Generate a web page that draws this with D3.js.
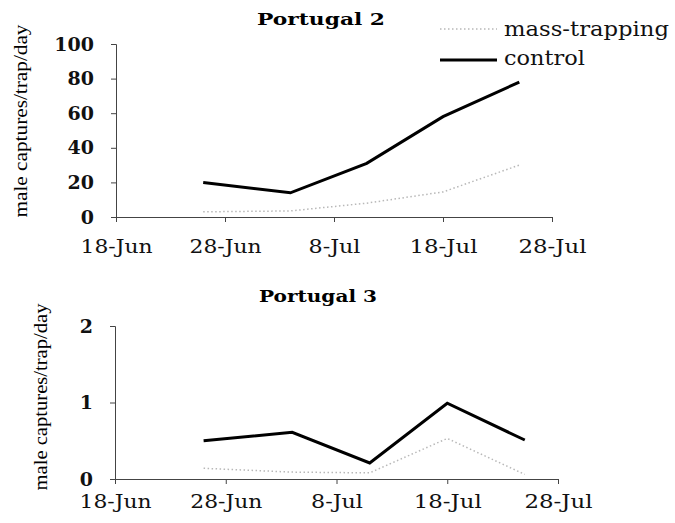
<!DOCTYPE html>
<html><head><meta charset="utf-8">
<script src="https://cdn.jsdelivr.net/npm/d3@7"></script>
<style>body{margin:0;background:#fff}svg{display:block}</style>
</head><body>
<svg id="c" width="675" height="523"></svg>
<script>
const dates = ["2007-06-26","2007-07-04","2007-07-11","2007-07-18","2007-07-25"];
const tickDates = ["2007-06-18","2007-06-28","2007-07-08","2007-07-18","2007-07-28"];
const tickLabels = ["18-Jun","28-Jun","8-Jul","18-Jul","28-Jul"];
const p2Mass = [3, 3.5, 8, 14.5, 30];
const p2Control = [20, 14, 31, 58, 78];
const p3Mass = [0.14, 0.09, 0.08, 0.53, 0.06];
const p3Control = [0.5, 0.61, 0.21, 0.99, 0.51];
const p2Ticks = [0,20,40,60,80,100];
const p3Ticks = [0,1,2];
const seriesNames = ["mass-trapping","control"];

const parse = d3.timeParse("%Y-%m-%d");
const svg = d3.select("#c");
const serif = "'DejaVu Serif', serif";

function panel(cfg){
  const x = d3.scaleTime().domain([parse(tickDates[0]), parse(tickDates[4])]).range([cfg.x0, cfg.x1]);
  const y = d3.scaleLinear().domain([0, cfg.ymax]).range([cfg.y0, cfg.y1]);
  const g = svg.append("g");
  // y axis
  const ya = g.append("g").attr("transform",`translate(${cfg.x0},0)`)
    .call(d3.axisLeft(y).tickValues(cfg.yticks).tickSize(5).tickFormat(d3.format("d")));
  ya.select(".domain").attr("stroke","#444");
  ya.selectAll(".tick line").attr("stroke","#444");
  ya.selectAll("text").attr("font-family",serif).attr("font-size",19).attr("font-weight","bold").attr("fill","#111").attr("dx",-14);
  // x axis
  const xa = g.append("g").attr("transform",`translate(0,${cfg.y0})`)
    .call(d3.axisBottom(x).tickValues(tickDates.map(parse)).tickSize(5).tickFormat((d,i)=>tickLabels[i]));
  xa.select(".domain").attr("stroke","#444");
  xa.selectAll(".tick line").attr("stroke","#444");
  xa.selectAll("text").attr("font-family",serif).attr("font-size",19).attr("fill","#111")
    .attr("dy",0).attr("y",cfg.xlabY)
    .attr("textLength",(d,i)=>cfg.xlens[i]).attr("lengthAdjust","spacingAndGlyphs");
  // title
  g.append("text").attr("x",cfg.tx).attr("y",cfg.ty).attr("text-anchor","middle")
    .attr("font-family",serif).attr("font-weight","bold").attr("font-size",17)
    .attr("textLength",cfg.tlen).attr("lengthAdjust","spacingAndGlyphs").text(cfg.title);
  // y label
  g.append("text").attr("transform",`translate(${cfg.lx},${cfg.ly}) rotate(-90)`).attr("text-anchor","middle")
    .attr("font-family","'Liberation Serif', serif").attr("font-size",18)
    .attr("textLength",cfg.llen).attr("lengthAdjust","spacingAndGlyphs").text("male captures/trap/day");
  const line = d3.line().x((d,i)=>x(parse(dates[i]))).y(d=>y(d));
  g.append("path").datum(cfg.mass).attr("d",line).attr("fill","none")
    .attr("stroke","#b8b8b8").attr("stroke-width",1.5).attr("stroke-dasharray","1.5,2.5");
  g.append("path").datum(cfg.control).attr("d",line).attr("fill","none")
    .attr("stroke","#000").attr("stroke-width",3);
}

const xl = [72,72,52,68,68];
panel({x0:116,x1:552,y0:217,y1:44,ymax:100,yticks:p2Ticks,mass:p2Mass,control:p2Control,
  title:"Portugal 2",tx:321,ty:25,tlen:128,lx:27,ly:121,llen:193,xlabY:36,xlens:xl});
panel({x0:115,x1:558,y0:479,y1:326,ymax:2,yticks:p3Ticks,mass:p3Mass,control:p3Control,
  title:"Portugal 3",tx:318,ty:302,tlen:118,lx:47,ly:397,llen:187,xlabY:29,xlens:xl});

// legend
const leg = svg.append("g");
const legY = [29, 60];
const legBase = [36, 65];
const legLen = [165, 81];
leg.append("line").attr("x1",440).attr("x2",497).attr("y1",legY[0]).attr("y2",legY[0])
  .attr("stroke","#b8b8b8").attr("stroke-width",1.5).attr("stroke-dasharray","1.5,2.5");
leg.append("line").attr("x1",440).attr("x2",497).attr("y1",legY[1]).attr("y2",legY[1])
  .attr("stroke","#000").attr("stroke-width",3);
seriesNames.forEach((n,i)=>{
  leg.append("text").attr("x",504).attr("y",legBase[i]).attr("font-family",serif)
    .attr("font-size",20).attr("fill","#111").attr("textLength",legLen[i])
    .attr("lengthAdjust","spacingAndGlyphs").text(n);
});
</script>
</body></html>
